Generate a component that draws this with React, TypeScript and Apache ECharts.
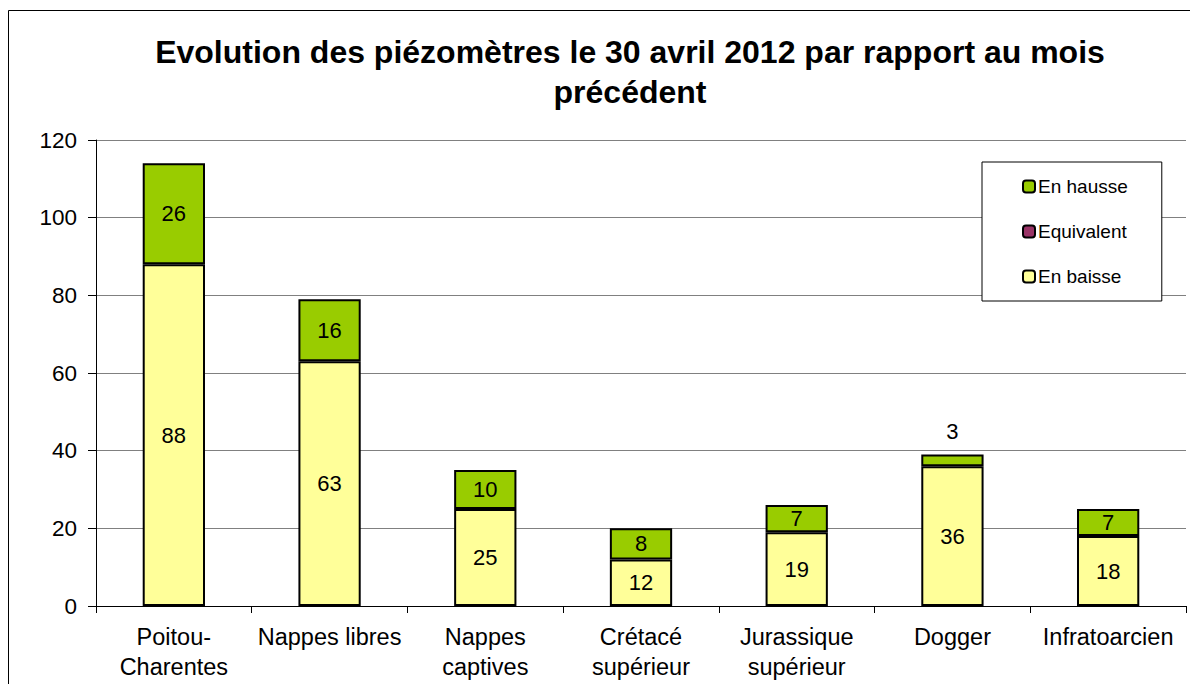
import React, { useEffect, useRef } from "react";
import * as echarts from "echarts";

const categories = [
  "Poitou-\nCharentes",
  "Nappes libres",
  "Nappes\ncaptives",
  "Crétacé\nsupérieur",
  "Jurassique\nsupérieur",
  "Dogger",
  "Infratoarcien",
];
const enBaisse = [88, 63, 25, 12, 19, 36, 18];
const equivalent = [0, 0, 0, 0, 0, 0, 0];
const enHausse = [26, 16, 10, 8, 7, 3, 7];
const titleLines = [
  "Evolution des piézomètres le 30 avril 2012 par rapport au mois",
  "précédent",
];

const FONT = "'Liberation Sans', Arial, sans-serif";

export default function App() {
  const ref = useRef<HTMLDivElement>(null);
  useEffect(() => {
    if (!ref.current) return;
    const chart = echarts.init(ref.current, undefined, { renderer: "svg" });
    const border = { borderColor: "#000", borderWidth: 2 };
    const legendBorder = { borderColor: "#000", borderWidth: 2 };
    chart.setOption({
      animation: false,
      textStyle: { fontFamily: FONT },
      graphic: [
        {
          type: "rect",
          shape: { x: 0.5, y: 2.5, width: 1300, height: 800 },
          style: { fill: "none", stroke: "#000", lineWidth: 1 },
          z: -10,
        },
        {
          type: "text",
          x: 622,
          y: 24,
          style: {
            text: titleLines.join("\n"),
            textAlign: "center",
            textVerticalAlign: "top",
            fontFamily: FONT,
            fontWeight: "bold",
            fontSize: 32,
            lineHeight: 40,
            fill: "#000",
          },
        },
      ],
      legend: {
        orient: "vertical",
        left: 974,
        top: 154,
        data: [
          { name: "En hausse", itemStyle: legendBorder },
          { name: "Equivalent", itemStyle: legendBorder },
          { name: "En baisse", itemStyle: legendBorder },
        ],
        itemWidth: 12,
        itemHeight: 12,
        itemGap: 26,
        padding: [15, 34, 15, 40],
        borderColor: "#000",
        borderWidth: 1,
        backgroundColor: "#fff",
        textStyle: { fontSize: 19, color: "#000", fontFamily: FONT, padding: [0, 0, 0, -2] },
      },
      grid: { left: 88, top: 132, right: 12, bottom: 78, containLabel: false },
      xAxis: {
        type: "category",
        data: categories,
        axisLine: { lineStyle: { color: "#000", width: 1 } },
        axisTick: { show: true, alignWithLabel: false, length: 7, lineStyle: { color: "#000" } },
        axisLabel: {
          interval: 0,
          fontSize: 23.5,
          lineHeight: 30,
          color: "#000",
          margin: 16,
          fontFamily: FONT,
        },
      },
      yAxis: {
        type: "value",
        min: 0,
        max: 120,
        interval: 20,
        axisLine: { show: true, lineStyle: { color: "#000", width: 1 } },
        axisTick: { show: true, length: 8, lineStyle: { color: "#000" } },
        axisLabel: { fontSize: 22.5, color: "#000", margin: 19, fontFamily: FONT },
        splitLine: { lineStyle: { color: "#808080", width: 1 } },
      },
      series: [
        {
          name: "En baisse",
          type: "bar",
          stack: "t",
          barWidth: "40%",
          data: enBaisse,
          itemStyle: { color: "#FFFF99", ...border },
          label: { show: true, position: "inside", fontSize: 22, color: "#000", fontFamily: FONT },
        },
        {
          name: "Equivalent",
          type: "bar",
          stack: "t",
          barWidth: "40%",
          data: equivalent,
          itemStyle: { color: "#993366", borderWidth: 0 },
          label: { show: false },
        },
        {
          name: "En hausse",
          type: "bar",
          stack: "t",
          barWidth: "40%",
          data: enHausse.map((v) =>
            v < 5
              ? { value: v, label: { position: "top", distance: 12 } }
              : v
          ),
          itemStyle: { color: "#99CC00", ...border },
          label: { show: true, position: "inside", fontSize: 22, color: "#000", fontFamily: FONT },
        },
      ],
    });
    return () => chart.dispose();
  }, []);
  return <div ref={ref} style={{ width: 1190, height: 676 }} />;
}
